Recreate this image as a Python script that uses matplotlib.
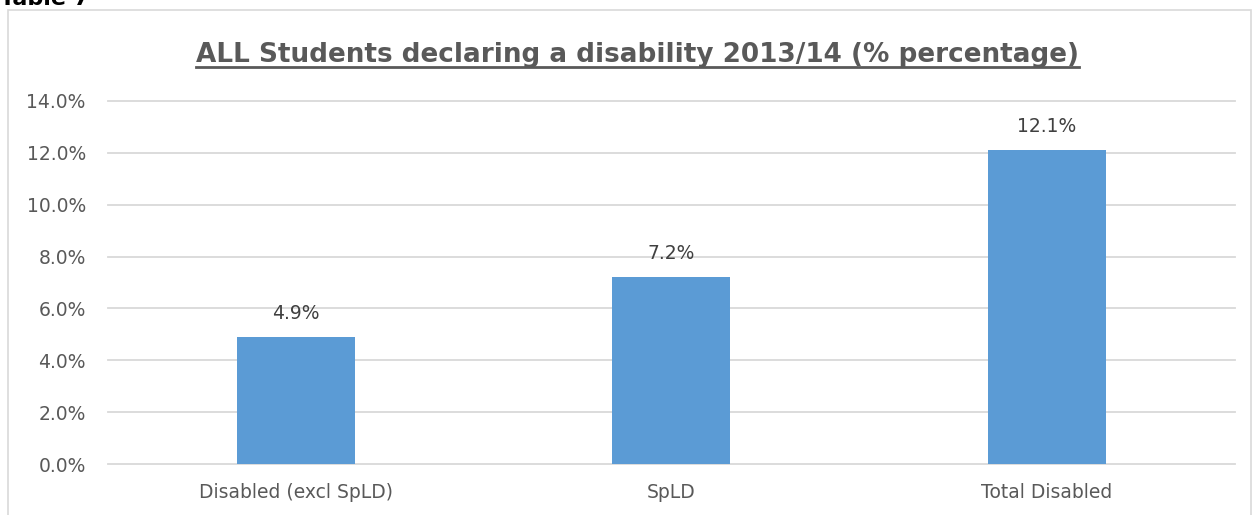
import matplotlib.pyplot as plt
from matplotlib.patches import Rectangle
from matplotlib.lines import Line2D

categories = ["Disabled (excl SpLD)", "SpLD", "Total Disabled"]
values = [4.9, 7.2, 12.1]
yticks = [0, 2, 4, 6, 8, 10, 12, 14]

W, H = 1253, 515
fig = plt.figure(figsize=(W / 100, H / 100), dpi=100)

# outer chart border
fig.patches.append(Rectangle((8 / W, -0.1), (1251 - 8) / W, 1.1 - 10 / H,
                             transform=fig.transFigure, fill=False,
                             edgecolor="#d9d9d9", linewidth=1.2))

fig.text(0.0, 1 - 5 / H, "Table 7", fontsize=16, fontweight="bold",
         color="black", va="baseline", ha="left")

ax = fig.add_axes([108 / W, 1 - 464 / H, 1126.5 / W, 363 / H])
x = range(len(categories))
ax.bar(x, values, width=0.315, color="#5b9bd5", zorder=3)
ax.set_xlim(-0.5, 2.5)
ax.set_ylim(0, 14)
ax.set_yticks(yticks)
ax.set_yticklabels([f"{v:.1f}%" for v in yticks])
ax.set_xticks(list(x))
ax.set_xticklabels(categories)
ax.tick_params(axis="both", length=0, labelsize=13.5, colors="#595959")
ax.tick_params(axis="y", pad=16)
ax.tick_params(axis="x", pad=14)
for t in yticks:
    ax.axhline(t, color="#d9d9d9", linewidth=1.3, zorder=0, clip_on=False)
for s in ax.spines.values():
    s.set_visible(False)

for xi, v in zip(x, values):
    ax.annotate(f"{v:.1f}%", (xi, v), xytext=(0, 10), textcoords="offset points",
                ha="center", va="bottom", fontsize=13.5, color="#404040")

title = fig.text(637 / W, 1 - 62 / H,
                 "ALL Students declaring a disability 2013/14 (% percentage)",
                 fontsize=18.9, fontweight="bold", color="#595959",
                 ha="center", va="baseline")
fig.canvas.draw()
bb = title.get_window_extent().transformed(fig.transFigure.inverted())
uy = 1 - 67 / H
fig.add_artist(Line2D([bb.x0, bb.x1], [uy, uy], transform=fig.transFigure,
                      color="#595959", linewidth=2))

fig.savefig("out.png", dpi=100)
